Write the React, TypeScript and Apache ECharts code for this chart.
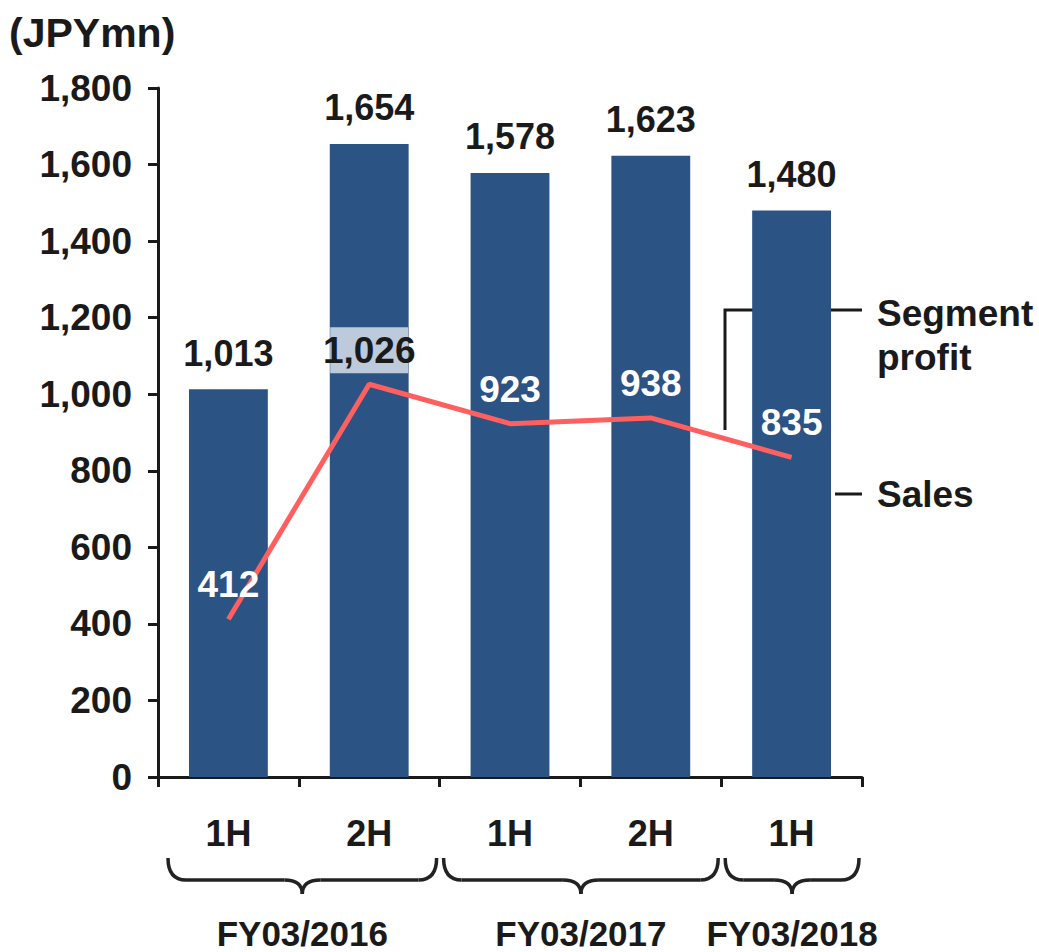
import React, { useEffect, useRef } from "react";
import * as echarts from "echarts";

const categories = ["1H", "2H", "1H", "2H", "1H"];
const sales = [1013, 1654, 1578, 1623, 1480];
const segmentProfit = [412, 1026, 923, 938, 835];
const fiscalYears = ["FY03/2016", "FY03/2017", "FY03/2018"];
const fiscalSpans = [[0, 2], [2, 4], [4, 5]];
const yTicks = { min: 0, max: 1800, interval: 200 };

const W = 1039;
const H = 952;
const GRID = { left: 158, right: 177, top: 88, bottom: 175 };
const FONT = "'Liberation Sans', Arial, sans-serif";
const INK = "#1a1a1a";
const BAR = "#2B5384";
const LINE = "#FF5F5F";

function braceGraphics(x1: number, x2: number, top: number, mid: number, tip: number) {
  const cx = (x1 + x2) / 2;
  const r = 18;
  const style = { stroke: "#222", lineWidth: 3.5, fill: null as any };
  return [
    { type: "bezierCurve", shape: { x1, y1: top, x2: x1 + r, y2: mid, cpx1: x1, cpy1: mid }, style },
    { type: "line", shape: { x1: x1 + r, y1: mid, x2: cx - r, y2: mid }, style },
    { type: "bezierCurve", shape: { x1: cx - r, y1: mid, x2: cx, y2: tip, cpx1: cx, cpy1: mid }, style },
    { type: "bezierCurve", shape: { x1: cx, y1: tip, x2: cx + r, y2: mid, cpx1: cx, cpy1: mid }, style },
    { type: "line", shape: { x1: cx + r, y1: mid, x2: x2 - r, y2: mid }, style },
    { type: "bezierCurve", shape: { x1: x2 - r, y1: mid, x2: x2, y2: top, cpx1: x2, cpy1: mid }, style },
  ];
}

export default function App() {
  const ref = useRef<HTMLDivElement>(null);
  useEffect(() => {
    if (!ref.current) return;
    const chart = echarts.init(ref.current, undefined, { renderer: "svg" });
    const plotW = W - GRID.left - GRID.right;
    const catW = plotW / categories.length;
    const boundary = (k: number) => GRID.left + k * catW;

    const graphics: any[] = [
      {
        type: "text",
        left: 9,
        top: 12,
        style: { text: "(JPYmn)", font: `bold 41px ${FONT}`, fill: INK },
      },
      {
        type: "polyline",
        shape: { points: [[725, 430], [725, 310], [862, 310]] },
        style: { stroke: INK, lineWidth: 3, fill: null },
      },
      {
        type: "line",
        shape: { x1: 835, y1: 494, x2: 862, y2: 494 },
        style: { stroke: INK, lineWidth: 3 },
      },
      {
        type: "text",
        x: 877,
        y: 291,
        style: { text: "Segment\nprofit", font: `bold 37px ${FONT}`, fill: INK, lineHeight: 44, verticalAlign: "top" },
      },
      {
        type: "text",
        x: 877,
        y: 476,
        style: { text: "Sales", font: `bold 37px ${FONT}`, fill: INK, verticalAlign: "top" },
      },
    ];

    fiscalSpans.forEach(([a, b], i) => {
      const x1 = boundary(a) + (a === 0 ? 10 : 4);
      const x2 = boundary(b) - 3;
      graphics.push(...braceGraphics(x1, x2, 858, 880, 894));
      graphics.push({
        type: "text",
        x: (x1 + x2) / 2,
        y: 950,
        style: {
          text: fiscalYears[i],
          font: `bold 35px ${FONT}`,
          fill: INK,
          align: "center",
          verticalAlign: "bottom",
          lineHeight: 34,
        },
      });
    });

    chart.setOption({
      animation: false,
      grid: { ...GRID, containLabel: false },
      xAxis: {
        type: "category",
        data: categories,
        boundaryGap: true,
        axisLine: { lineStyle: { color: INK, width: 3 } },
        axisTick: { show: true, length: 10, lineStyle: { color: INK, width: 3 } },
        axisLabel: { fontFamily: FONT, fontWeight: "bold", fontSize: 36, color: INK, margin: 38 },
      },
      yAxis: {
        type: "value",
        min: yTicks.min,
        max: yTicks.max,
        interval: yTicks.interval,
        splitLine: { show: false },
        axisLine: { show: true, lineStyle: { color: INK, width: 3 } },
        axisTick: { show: true, length: 10, lineStyle: { color: INK, width: 3 } },
        axisLabel: {
          fontFamily: FONT,
          fontWeight: "bold",
          fontSize: 37,
          color: INK,
          margin: 26,
          formatter: (v: number) => v.toLocaleString("en-US"),
        },
      },
      series: [
        {
          type: "bar",
          data: sales,
          barWidth: "56%",
          itemStyle: { color: BAR },
          label: {
            show: true,
            position: "top",
            distance: 18,
            fontFamily: FONT,
            fontWeight: "bold",
            fontSize: 36,
            color: INK,
            formatter: (p: any) => Number(p.value).toLocaleString("en-US"),
          },
        },
        {
          type: "line",
          data: segmentProfit.map((v, i) =>
            i === 1
              ? {
                  value: v,
                  label: {
                    color: INK,
                    backgroundColor: "#BCCADB",
                    width: 78,
                    height: 46,
                    lineHeight: 46,
                    overflow: "none",
                    distance: 11,
                  },
                }
              : v
          ),
          symbol: "circle",
          symbolSize: 0,
          lineStyle: { color: LINE, width: 5 },
          itemStyle: { color: LINE },
          label: {
            show: true,
            position: "top",
            distance: 16,
            fontFamily: FONT,
            fontWeight: "bold",
            fontSize: 37,
            color: "#ffffff",
            align: "center",
            formatter: (p: any) => Number(p.value).toLocaleString("en-US"),
          },
          z: 3,
        },
      ],
      graphic: graphics,
    });
    return () => chart.dispose();
  }, []);
  return (
    <div
      ref={ref}
      style={{ position: "fixed", left: 0, top: 0, width: W, height: H, background: "#fff" }}
    />
  );
}
